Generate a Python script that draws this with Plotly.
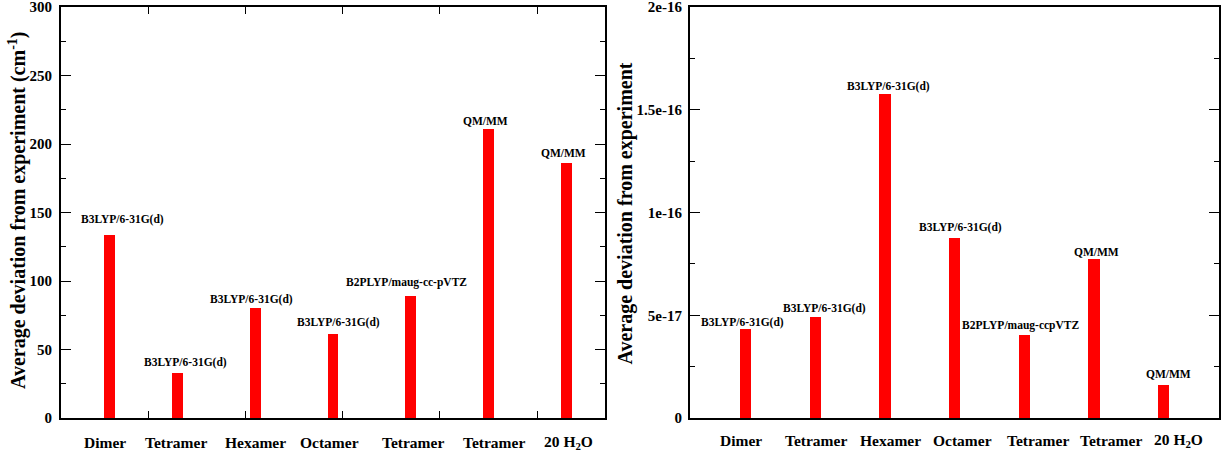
import plotly.graph_objects as go

# ---------------- data ----------------
categories = ["Dimer", "Tetramer", "Hexamer", "Octamer", "Tetramer", "Tetramer", "20 H<sub>2</sub>O"]

left_x = [0.6, 1.3, 2.1, 2.9, 3.7, 4.5, 5.3]
left_values = [133.6, 33.0, 80.5, 61.3, 89.0, 211.0, 186.4]
left_methods = ["B3LYP/6-31G(d)", "B3LYP/6-31G(d)", "B3LYP/6-31G(d)", "B3LYP/6-31G(d)",
                "B2PLYP/maug-cc-pVTZ", "QM/MM", "QM/MM"]

right_x = [1, 2, 3, 4, 5, 6, 7]
right_values = [4.33e-17, 4.93e-17, 1.578e-16, 8.76e-17, 4.04e-17, 7.74e-17, 1.6e-17]
right_methods = ["B3LYP/6-31G(d)", "B3LYP/6-31G(d)", "B3LYP/6-31G(d)", "B3LYP/6-31G(d)",
                 "B2PLYP/maug-ccpVTZ", "QM/MM", "QM/MM"]

left_yticks = [0, 50, 100, 150, 200, 250, 300]
right_yticks = [0, 5e-17, 1e-16, 1.5e-16, 2e-16]
right_yticklabels = ["0", "5e-17", "1e-16", "1.5e-16", "2e-16"]

left_title = "Average deviation from experiment (cm<sup>-1</sup>)"
right_title = "Average deviation from experiment"

# ---------------- style / layout ----------------
W, H = 1225, 452
FONT = "Liberation Serif"
RED = "#ff0000"

# pixel offsets of the method labels (x shift, y shift) relative to bar tops
left_lbl_shift = [(12.6, 15), (7.7, 10), (-3.6, 8), (5, 11.5), (-3.8, 13.5), (-3.4, 8), (-3, 10)]
right_lbl_shift = [(-3.7, 7), (9.2, 7.7), (3.8, 7.7), (5.5, 10.5), (-3.7, 9), (2.7, 7), (4.5, 11.5)]
# pixel offsets of category labels relative to bar centres
left_cat_shift = [-5, -2, 0, -3.6, 2.7, 6, 2]
right_cat_shift = [-4.8, 0.2, 5.4, 8, 13.3, 16.9, 15.2]

fig = go.Figure()
fig.add_trace(go.Bar(x=left_x, y=left_values, width=0.112, marker=dict(color=RED, line=dict(width=0)),
                     xaxis="x", yaxis="y", showlegend=False))
fig.add_trace(go.Bar(x=right_x, y=right_values, width=0.16, marker=dict(color=RED, line=dict(width=0)),
                     xaxis="x2", yaxis="y2", showlegend=False))

ydom = [1 - 418 / H, 1 - 7 / H]
tickfont = dict(family=FONT, size=15, color="black", weight="bold")

axis_common = dict(showline=True, linecolor="black", linewidth=2, showgrid=False, zeroline=False,
                   tickcolor="black", tickwidth=1, automargin=False)

fig.update_layout(
    width=W, height=H, margin=dict(l=0, r=0, t=0, b=0, autoexpand=False),
    paper_bgcolor="white", plot_bgcolor="white",
    bargap=0,
    xaxis=dict(domain=[61 / W, 605 / W], range=[0.1, 5.7], anchor="y",
               tickmode="linear", tick0=1, dtick=1, ticks="inside", ticklen=7,
               showticklabels=False, mirror="ticks", **axis_common),
    yaxis=dict(domain=ydom, range=[0, 300], anchor="x",
               tickmode="array", tickvals=left_yticks, ticks="inside", ticklen=10,
               tickfont=tickfont, mirror="ticks", ticklabelstandoff=4, ticklabeloverflow="allow",
               minor=dict(dtick=25, ticks="inside", ticklen=5, tickcolor="black", tickwidth=1),
               **axis_common),
    xaxis2=dict(domain=[690 / W, 1219.3 / W], range=[0.2, 7.8], anchor="y2",
                ticks="", showticklabels=False, mirror=True, **axis_common),
    yaxis2=dict(domain=ydom, range=[0, 2e-16], anchor="x2",
                tickmode="array", tickvals=right_yticks, ticktext=right_yticklabels,
                ticks="inside", ticklen=10, tickfont=tickfont, mirror="ticks", ticklabelstandoff=3,
                ticklabeloverflow="allow",
                minor=dict(dtick=2.5e-17, ticks="inside", ticklen=5, tickcolor="black", tickwidth=1),
                **axis_common),
)

ann = []
lblfont = dict(family=FONT, size=11.5, color="black", weight="bold")
catfont = dict(family=FONT, size=15.5, color="black", weight="bold")
for i in range(len(categories)):
    ann.append(dict(x=left_x[i], y=left_values[i], xref="x", yref="y", text=left_methods[i],
                    showarrow=False, xshift=left_lbl_shift[i][0], yshift=left_lbl_shift[i][1],
                    yanchor="middle", font=lblfont))
    ann.append(dict(x=right_x[i], y=right_values[i], xref="x2", yref="y2", text=right_methods[i],
                    showarrow=False, xshift=right_lbl_shift[i][0], yshift=right_lbl_shift[i][1],
                    yanchor="middle", font=lblfont))
    ann.append(dict(x=left_x[i], y=1 - 442 / H, xref="x", yref="paper", text=categories[i],
                    showarrow=False, xshift=left_cat_shift[i], yanchor="middle", font=catfont))
    ann.append(dict(x=right_x[i], y=1 - 440 / H, xref="x2", yref="paper", text=categories[i],
                    showarrow=False, xshift=right_cat_shift[i], yanchor="middle", font=catfont))

titlefont = dict(family=FONT, size=20, color="black", weight="bold")
ann.append(dict(x=18 / W, y=1 - 210 / H, xref="paper", yref="paper", text=left_title,
                textangle=-90, showarrow=False, xanchor="center", yanchor="middle", font=titlefont))
ann.append(dict(x=625 / W, y=1 - 213.5 / H, xref="paper", yref="paper", text=right_title,
                textangle=-90, showarrow=False, xanchor="center", yanchor="middle", font=titlefont))
fig.update_layout(annotations=ann)

fig.write_html("out.html")
